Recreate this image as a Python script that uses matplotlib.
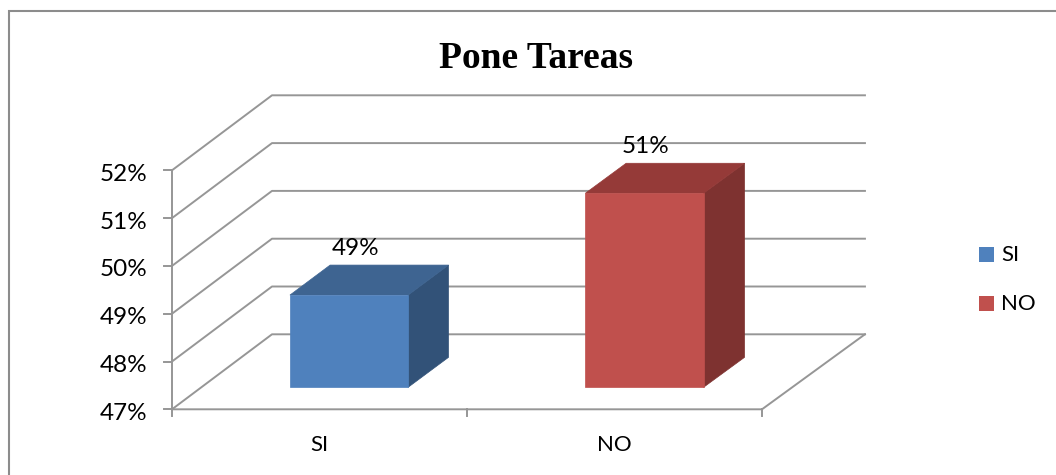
#!/usr/bin/env python3
"""Pone Tareas: fake 3D column chart, drawn on a pixel-sized axes."""
import matplotlib
matplotlib.use("Agg")
import matplotlib.pyplot as plt
from matplotlib.patches import Polygon, Rectangle

CATEGORIES = ["SI", "NO"]
VALUES = [48.93, 51.06]
VALUE_LABELS = ["49%", "51%"]
Y_TICKS = [47, 48, 49, 50, 51, 52]
TITLE = "Pone Tareas"

FRONT_COLORS = ["#4F81BD", "#C0504D"]
TOP_COLORS = ["#3E6491", "#953A38"]
SIDE_COLORS = ["#325278", "#7E3230"]
GRID = "#969696"
TEXT_FONT = ["Lato", "DejaVu Sans"]
LABEL_DX = [7, 1]


def project(cat, value, depth=0.0):
    """Category position, percent value and depth (0 front, 1 back) to pixels."""
    px = 172 + 295 * cat * (1 + 0.005 * depth) + 100 * depth
    py = 409.3 - 47.8 * (value - 47) - 75 * depth
    return px, py


fig = plt.figure(figsize=(10.56, 4.75), dpi=100)
ax = fig.add_axes([0, 0, 1, 1])
ax.set_xlim(0, 1056)
ax.set_ylim(475, 0)
ax.axis("off")

# outer frame, only left and top show in the crop
ax.plot([9, 9, 1056], [475, 11, 11], color="#8C8C8C", lw=1.5, solid_joinstyle="miter")

n_cat = len(CATEGORIES)
for tick in Y_TICKS:
    pts = [project(0, tick, 0), project(0, tick, 1), project(n_cat, tick, 1)]
    ax.plot([p[0] for p in pts], [p[1] for p in pts], color=GRID, lw=1.4, zorder=1)
    x0, y0 = project(0, tick)
    ax.plot([x0 - 8, x0], [y0, y0], color=GRID, lw=1.4, zorder=1)
    ax.text(x0 - 25, y0 + 4, f"{tick}%", ha="right", va="center", fontsize=17.5,
            family=TEXT_FONT, color="black")

# floor and axes
floor = [project(0, 47, 0), project(n_cat, 47, 0), project(n_cat, 47, 1)]
ax.plot([p[0] for p in floor], [p[1] for p in floor], color=GRID, lw=1.4, zorder=1)
top_left = project(0, Y_TICKS[-1])
bottom_left = project(0, Y_TICKS[0])
ax.plot([top_left[0]] * 2, [top_left[1], bottom_left[1]], color=GRID, lw=1.4, zorder=1)
for i in range(n_cat + 1):
    x0, y0 = project(i, 47)
    ax.plot([x0, x0], [y0, y0 + 7], color=GRID, lw=1.4, zorder=1)

BAR_W = 0.4
D0, D1 = 0.293, 0.693
for i, (cat, val, lab) in enumerate(zip(CATEGORIES, VALUES, VALUE_LABELS)):
    left, right = i + 0.5 - BAR_W / 2, i + 0.5 + BAR_W / 2
    front = [project(left, 47, D0), project(right, 47, D0),
             project(right, val, D0), project(left, val, D0)]
    top = [project(left, val, D0), project(right, val, D0),
           project(right, val, D1), project(left, val, D1)]
    side = [project(right, 47, D0), project(right, 47, D1),
            project(right, val, D1), project(right, val, D0)]
    ax.add_patch(Polygon(side, closed=True, fc=SIDE_COLORS[i], ec=SIDE_COLORS[i], lw=0.5, zorder=3))
    ax.add_patch(Polygon(top, closed=True, fc=TOP_COLORS[i], ec=TOP_COLORS[i], lw=0.5, zorder=3))
    ax.add_patch(Polygon(front, closed=True, fc=FRONT_COLORS[i], ec=FRONT_COLORS[i], lw=0.5, zorder=4))

    lx, ly = project(i + 0.5, val, D0)
    ax.text(lx + LABEL_DX[i], ly - 47, lab, ha="center", va="center", fontsize=17.5,
            family=TEXT_FONT, color="black", zorder=5)
    cx, cy = project(i + 0.5, 47)
    ax.text(cx, cy + 36, cat, ha="center", va="center", fontsize=16,
            family=TEXT_FONT, color="black")

    # legend
    ly0 = 247 + 49 * i
    ax.add_patch(Rectangle((979, ly0), 15, 15, fc=FRONT_COLORS[i], ec="none"))
    ax.text(1001, ly0 + 8, cat, ha="left", va="center", fontsize=16,
            family=TEXT_FONT, color="black")

ax.text(536, 58, TITLE, ha="center", va="center", fontsize=27, fontweight="bold",
        family=["Liberation Serif", "DejaVu Serif"], color="black")

fig.savefig("out.png", dpi=100)
plt.close(fig)
